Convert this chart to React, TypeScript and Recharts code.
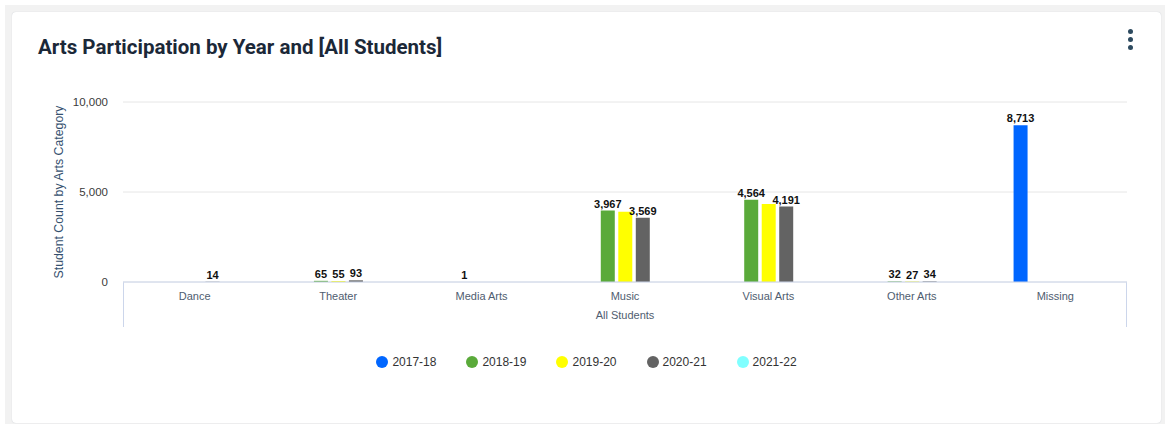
import React from 'react';
import { BarChart, Bar, XAxis, YAxis, CartesianGrid, Legend, LabelList } from 'recharts';

const categories = ['Dance', 'Theater', 'Media Arts', 'Music', 'Visual Arts', 'Other Arts', 'Missing'];
const years = ['2017-18', '2018-19', '2019-20', '2020-21', '2021-22'];
const colors = ['#0066ff', '#5aaa3a', '#ffff00', '#636363', '#80ffff'];
const values2017_18: (number | null)[] = [null, null, null, null, null, null, 8713];
const values2018_19: (number | null)[] = [null, 65, 1, 3967, 4564, 32, null];
const values2019_20: (number | null)[] = [null, 55, null, 3900, 4330, 27, null];
const values2020_21: (number | null)[] = [14, 93, null, 3569, 4191, 34, null];
const values2021_22: (number | null)[] = [null, null, null, null, null, null, null];
const yTicks = [0, 5000, 10000];

const seriesValues = [values2017_18, values2018_19, values2019_20, values2020_21, values2021_22];

const BAR_SIZE = 14;
const BAR_GAP = 3.5;
const FONT = '"Liberation Sans", Arial, sans-serif';

const fmt = (v: number) => v.toLocaleString('en-US');
const labelWidth = (v: number) => {
  let w = 0;
  for (const ch of fmt(v)) w += ch === ',' ? 3.1 : 6.1;
  return w;
};

// Hide a data label when it would collide with an already shown label of an earlier series.
function labelShown(s: number, j: number): boolean {
  const v = seriesValues[s][j];
  if (v == null) return false;
  for (let p = 0; p < s; p++) {
    if (!labelShown(p, j)) continue;
    const pv = seriesValues[p][j] as number;
    const dist = (s - p) * (BAR_SIZE + BAR_GAP);
    if (dist < (labelWidth(v) + labelWidth(pv)) / 2 + 1) return false;
  }
  return true;
}

const data = categories.map((c, j) => {
  const row: Record<string, any> = { category: c };
  years.forEach((y, s) => {
    row[y] = seriesValues[s][j];
    row[y + '_label'] = labelShown(s, j) ? seriesValues[s][j] : null;
  });
  return row;
});

const renderLabel = (props: any) => {
  const { x, y, width, value } = props;
  if (value == null || value === '') return null;
  return (
    <text
      x={Number(x) + Number(width) / 2}
      y={Number(y) - 3}
      textAnchor="middle"
      fontSize={11}
      fontWeight={700}
      fill="#111"
      fontFamily={FONT}
    >
      {fmt(Number(value))}
    </text>
  );
};

const renderLegend = () => (
  <div
    style={{
      display: 'flex',
      justifyContent: 'center',
      alignItems: 'center',
      gap: 30,
      fontFamily: FONT,
      fontSize: 12,
      color: '#333',
    }}
  >
    {years.map((y, i) => (
      <div key={y} style={{ display: 'flex', alignItems: 'center' }}>
        <span
          style={{
            display: 'inline-block',
            width: 12,
            height: 12,
            borderRadius: 6,
            background: colors[i],
            marginRight: 4,
          }}
        />
        <span>{y}</span>
      </div>
    ))}
  </div>
);

export default function App() {
  return (
    <div
      style={{
        position: 'absolute',
        left: 0,
        top: 0,
        width: 1165,
        height: 424,
        background: '#ffffff',
        overflow: 'hidden',
      }}
    >
      <div style={{ position: 'absolute', left: 5, top: 5, right: 0, bottom: 0, background: '#f2f2f2' }} />
      <div
        style={{
          position: 'absolute',
          left: 12,
          top: 12,
          width: 1149,
          height: 411,
          background: '#ffffff',
          borderRadius: 4,
          boxShadow: '0 0 1px rgba(40,60,90,0.25)',
        }}
      />
      <div
        style={{
          position: 'absolute',
          left: 38,
          top: 34,
          fontFamily: 'Roboto, sans-serif',
          fontWeight: 700,
          fontSize: 20.5,
          lineHeight: '26px',
          color: '#1b2838',
          whiteSpace: 'nowrap',
        }}
      >
        Arts Participation by Year and [All Students]
      </div>
      {[31, 39, 47].map((cy) => (
        <div
          key={cy}
          style={{
            position: 'absolute',
            left: 1127.5,
            top: cy - 2.5,
            width: 5,
            height: 5,
            borderRadius: 2.5,
            background: '#2d4a5f',
          }}
        />
      ))}
      <div style={{ position: 'absolute', left: 123, top: 282, width: 1, height: 45, background: '#ccd6eb' }} />
      <div style={{ position: 'absolute', left: 1126, top: 282, width: 1, height: 45, background: '#ccd6eb' }} />
      <div style={{ position: 'absolute', left: 0, top: 0 }}>
        <BarChart
          width={1165}
          height={424}
          data={data}
          margin={{ top: 102, right: 38, bottom: 102, left: 54 }}
          barSize={BAR_SIZE}
          barGap={BAR_GAP}
        >
          <CartesianGrid horizontal vertical={false} stroke="#e6e6e6" />
          <XAxis
            dataKey="category"
            height={40}
            tickLine={false}
            tickSize={0}
            tickMargin={10}
            axisLine={{ stroke: '#ccd6eb' }}
            tick={{ fontSize: 11, fill: '#4f5d70', fontFamily: FONT }}
            interval={0}
            label={{
              value: 'All Students',
              position: 'insideBottom',
              offset: 3,
              style: { fontSize: 11, fill: '#4f5d70', fontFamily: FONT },
            }}
          />
          <YAxis
            width={69}
            domain={[0, 10000]}
            ticks={yTicks}
            tickFormatter={(v: number) => fmt(v)}
            axisLine={false}
            tickLine={false}
            tickSize={0}
            tickMargin={15}
            tick={{ fontSize: 11.5, fill: '#3a3a3a', fontFamily: FONT }}
            label={{
              value: 'Student Count by Arts Category',
              angle: -90,
              position: 'insideLeft',
              offset: 5,
              style: { textAnchor: 'middle', fontSize: 12.3, fill: '#34506e', fontFamily: FONT },
            }}
          />
          <Legend
            layout="horizontal"
            verticalAlign="middle"
            align="center"
            content={renderLegend}
            wrapperStyle={{ top: 355, left: 12, width: 1149 }}
          />
          {years.map((y, i) => (
            <Bar key={y} dataKey={y} name={y} fill={colors[i]} isAnimationActive={false}>
              <LabelList dataKey={y + '_label'} content={renderLabel} />
            </Bar>
          ))}
        </BarChart>
      </div>
    </div>
  );
}
